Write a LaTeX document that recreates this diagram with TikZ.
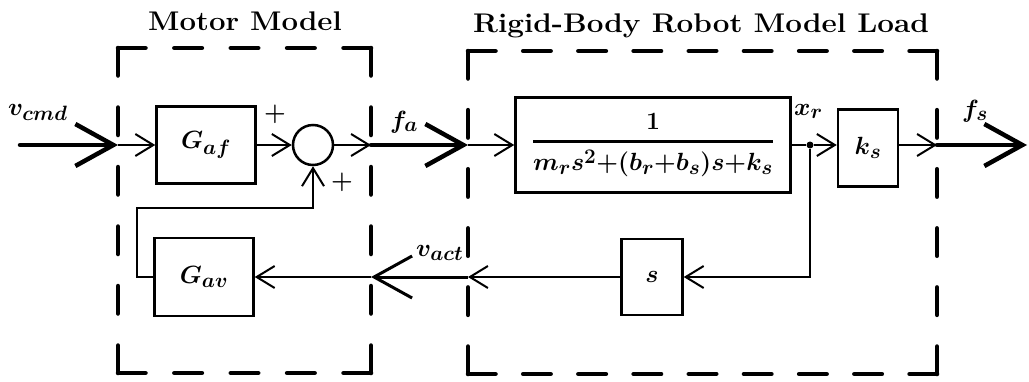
\documentclass[tikz,border=0pt]{standalone}
\usepackage{graphicx}
\usetikzlibrary{arrows.meta}
\DeclareMathSizes{26}{26}{21.5}{17}
\newcommand{\lblfont}{\fontsize{26}{30}\selectfont\boldmath}
\begin{document}
\begin{tikzpicture}[x=1pt,y=-1pt,
  blk/.style={draw, line width=2.5pt, inner sep=0pt, font=\lblfont},
  thinln/.style={line width=2pt},
  thickln/.style={line width=4.5pt, line cap=round},
  sarr/.style={-{Straight Barb[length=18pt,width=22pt]}},
  barr/.style={-{Straight Barb[length=38pt,width=42pt]}},
  dside/.style={line width=4.5pt, line cap=round},
  lbl/.style={font=\lblfont, inner sep=0pt},
  ttl/.style={font=\fontsize{27}{32}\selectfont\bfseries, inner sep=0pt}]
\useasboundingbox (0,0) rectangle (1029,381);

% titles
\node[ttl, anchor=base] (t1) at (245,30) {\scalebox{1.09}[1]{Motor Model}};
\node[ttl, anchor=base] (t2) at (701,32) {\scalebox{1.1}[1]{Rigid-Body Robot Model Load}};

% dashed boxes: Motor (118,48)-(371,373)
\coordinate (m1) at (118,48);
\coordinate (m2) at (371,48);
\coordinate (m3) at (371,373);
\coordinate (m4) at (118,373);
\draw[dside, dash pattern=on 27.5pt off 28.875pt] (m1) -- (m2);
\draw[dside, dash pattern=on 27.5pt off 28.875pt] (m4) -- (m3);
\draw[dside, dash pattern=on 27.5pt off 32pt] (m1) -- (m4);
\draw[dside, dash pattern=on 27.5pt off 32pt] (m2) -- (m3);
% Robot (468,51)-(937,374)
\coordinate (r1) at (468,51);
\coordinate (r2) at (937,51);
\coordinate (r3) at (937,374);
\coordinate (r4) at (468,374);
\draw[dside, dash pattern=on 27.5pt off 27.69pt] (r1) -- (r2);
\draw[dside, dash pattern=on 27.5pt off 27.69pt] (r4) -- (r3);
\draw[dside, dash pattern=on 27.5pt off 31.6pt] (r1) -- (r4);
\draw[dside, dash pattern=on 27.5pt off 31.6pt] (r2) -- (r3);

% blocks
\node[blk, minimum width=99pt, minimum height=77pt] (Gaf) at (206,145) {$G_{af}$};
\node[draw, circle, line width=2.5pt, minimum size=40pt, inner sep=0pt] (sum) at (313,145) {};
\node[blk, minimum width=99pt, minimum height=78pt] (Gav) at (204,277) {$G_{av}$};
\node[blk, minimum width=275pt, minimum height=95pt] (P) at (653,145) {$\displaystyle{1\above 2.5pt m_r s^2{+}(b_r{+}b_s)s{+}k_s}$};
\node[blk, minimum width=60pt, minimum height=77pt] (Ks) at (868,148) {$k_s$};
\node[blk, minimum width=61pt, minimum height=76pt] (S) at (652,277) {$s$};
\node[circle, fill, minimum size=7pt, inner sep=0pt] (xr) at (810,145) {};

% crossing points
\coordinate (in0) at (20,145);
\coordinate (mL) at (118,145);
\coordinate (mR) at (371,145);
\coordinate (rL) at (468,145);
\coordinate (rR) at (937,145);
\coordinate (out) at (1027,145);
\coordinate (rL2) at (468,277);
\coordinate (mR2) at (371,277);
\coordinate (fb) at (137,208);

% forward path
\draw[thickln, barr] (in0) -- (mL);
\draw[thinln, sarr] (mL) -- (Gaf.west);
\draw[thinln, sarr] (Gaf.east) -- (sum.west);
\draw[thinln, sarr] (sum.east) -- (mR);
\draw[thickln, barr] (mR) -- (rL);
\draw[thinln, sarr] (rL) -- (P.west);
\draw[thinln] (P.east) -- (xr);
\draw[thinln, sarr] (xr) -- (xr -| Ks.west);
\draw[thinln, sarr] (Ks.east |- xr) -- (rR);
\draw[thickln, barr] (rR) -- (out);

% feedback path
\draw[thinln, sarr] (xr) |- (S.east);
\draw[thinln, sarr] (S.west) -- (rL2);
\draw[line width=3pt, barr] (rL2) -- (mR2);
\draw[thinln, sarr] (mR2) -- (Gav.east);
\draw[thinln, sarr] (Gav.west) -| (fb) -| (sum.south);

% labels
\node[lbl, anchor=base west] (lcmd) at (8,115) {$v_{cmd}$};
\node[lbl] (p1) at (275,114) {$+$};
\node[lbl] (p2) at (342,182) {$+$};
\node[lbl, anchor=base west] (lfa) at (390,128) {$f_a$};
\node[lbl, anchor=base west] (lact) at (416,256) {$v_{act}$};
\node[lbl, anchor=base west] (lxr) at (794,115) {$x_r$};
\node[lbl, anchor=base west] (lfs) at (962,117) {$f_s$};
\end{tikzpicture}
\end{document}
